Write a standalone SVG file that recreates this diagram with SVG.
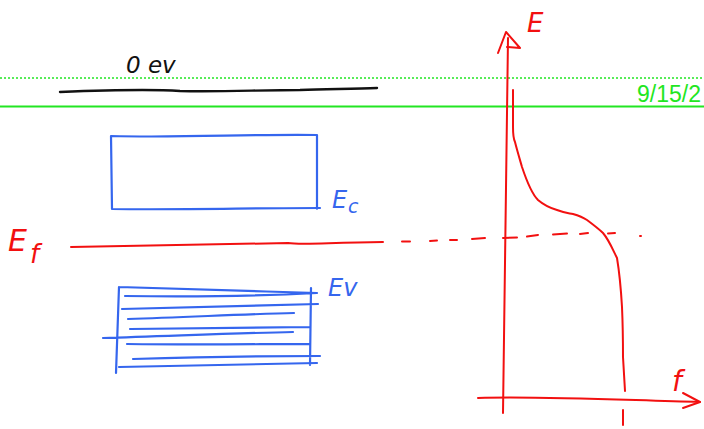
<svg xmlns="http://www.w3.org/2000/svg" width="704" height="429" viewBox="0 0 704 429">
  <style>
    .ink { fill: none; stroke-linecap: round; stroke-linejoin: round; }
    .red { stroke: #f21010; stroke-width: 2; }
    .blue { stroke: #3566ee; stroke-width: 2.2; }
    .black { stroke: #111; stroke-width: 2.4; }
    .hand { font-family: "DejaVu Sans", "Liberation Sans", sans-serif; font-style: oblique; }
    .tr { fill: #f21010; }
    .tb { fill: #3566ee; }
  </style>

  <!-- page guide lines -->
  <g id="page-lines">
    <line x1="0" y1="78" x2="704" y2="78" stroke="#22e622" stroke-width="1.5" stroke-dasharray="2 2"/>
    <line x1="0" y1="106.5" x2="704" y2="106.5" stroke="#22e622" stroke-width="2"/>
    <text x="637" y="102" font-family="Liberation Sans, Arial, sans-serif" font-size="23" fill="#22e622">9/15/2</text>
  </g>

  <!-- vacuum level -->
  <g id="vacuum-level">
    <text x="126" y="73" class="hand" font-size="23" fill="#111">0 ev</text>
    <path class="ink black" d="M60 92 C110 90 150 89 180 91 C220 92 260 90 300 90 C330 89 355 89 377 88"/>
  </g>

  <!-- conduction band -->
  <g id="conduction-band">
    <path class="ink blue" d="M111 136 C180 138 250 134 317 135 L317 209 M111 136 L112 209 C180 210 250 208 320 208"/>
    <text x="332" y="208" class="hand tb" font-size="24">E</text>
    <text x="348" y="213" class="hand tb" font-size="19">c</text>
  </g>

  <!-- Fermi level -->
  <g id="fermi-level">
    <text x="8" y="251" class="hand tr" font-size="30">E</text>
    <text x="30" y="263" class="hand tr" font-size="26">f</text>
    <path class="ink red" d="M71 247 C150 246 220 244 288 243 C300 245 320 243 383 242"/>
  </g>

  <!-- valence band -->
  <g id="valence-band">
    <path class="ink blue" d="M119 287 C180 289 250 291 317 293 M119 287 L116 373 M311 288 L310 365
      M125 296 C200 297 260 296 317 293
      M122 309 C200 307 260 305 318 304
      M128 319 C190 317 250 314 294 313
      M130 329 C200 328 260 327 310 327
      M103 338 C170 336 240 333 293 332
      M127 344 C200 345 260 344 310 344
      M133 359 C200 357 270 356 320 356
      M119 367 C190 366 260 364 317 363"/>
    <text x="328" y="296" class="hand tb" font-size="24">Ev</text>
  </g>

  <!-- Fermi-Dirac plot axes -->
  <g id="axes">
    <path class="ink red" d="M508 38 L503 413"/>
    <path class="ink red" d="M498 53 L506 32 L520 48 L507 47"/>
    <text x="527" y="32" class="hand tr" font-size="26">E</text>
    <path class="ink red" d="M478 398 C540 396 620 400 700 402"/>
    <path class="ink red" d="M683 393 L700 402 L683 408"/>
    <text x="672" y="391" class="hand tr" font-size="28">f</text>
    <path class="ink red" d="M623 410 L623 425"/>
  </g>

  <!-- occupation curve and extended Fermi level -->
  <g id="curves">
    <path class="ink red" d="M513 90 L513 127 C513 135 514 140 515 142 C517 150 520 160 522 167 C527 182 532 194 538 200 C545 206 550 208 557 210 C565 213 568 213 573 214 C580 216 584 218 587 220 C595 226 600 230 603 233 C609 240 613 250 617 258 C619 270 621 290 622 307 C623 330 623 350 623 357 L625 391"/>
    <path class="ink red" d="M402 241.5 L410 241.5 M430 241 L437 240.5 M450 240 L457 240 M472 239 L485 238 M503 238 L517 237.5 M527 236.5 L538 235 M553 234.5 L567 233.5 M580 234 L588 233 M608 233.5 L615 233 M640 236 L641 236"/>
  </g>
</svg>
